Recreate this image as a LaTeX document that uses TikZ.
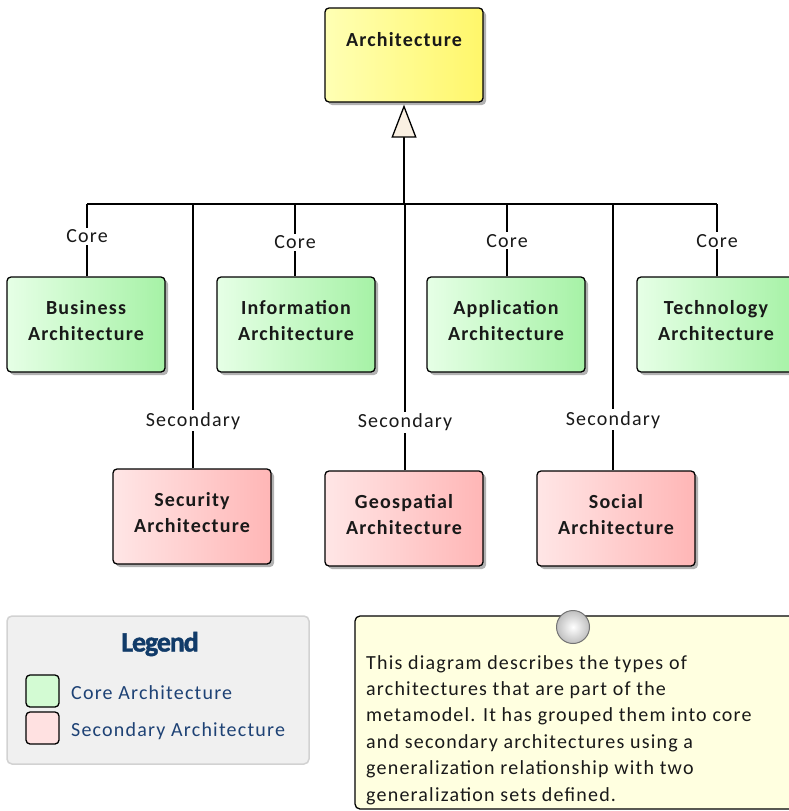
\documentclass[tikz,border=0pt]{standalone}
\usepackage{fontspec}
\setmainfont{Carlito}[LetterSpace=6]
\newfontfamily\legfont{Carlito}[LetterSpace=-4,FakeBold=1.5]
\usetikzlibrary{arrows.meta,shadows}
\definecolor{ylwL}{HTML}{FFFFB4}
\definecolor{ylwR}{HTML}{FFF76A}
\definecolor{grnL}{HTML}{E6FFE6}
\definecolor{grnR}{HTML}{A6F2A6}
\definecolor{pnkL}{HTML}{FFE6E6}
\definecolor{pnkR}{HTML}{FFB6B6}
\definecolor{cream}{HTML}{FAF0E2}
\definecolor{legbg}{HTML}{F0F0F0}
\definecolor{legbd}{HTML}{D2D2D2}
\definecolor{legtitle}{HTML}{113B69}
\definecolor{legtext}{HTML}{1E4275}
\definecolor{notebg}{HTML}{FFFFE0}
\tikzset{
  shad/.style={drop shadow={shadow xshift=3pt,shadow yshift=-3pt,opacity=0.3,fill=black}},
  box/.style={draw=black,line width=1.3pt,rounded corners=4pt,minimum width=158pt,minimum height=95pt,inner sep=0pt,shad},
  corebox/.style={box,left color=grnL,right color=grnR},
  secbox/.style={box,left color=pnkL,right color=pnkR},
  topbox/.style={box,left color=ylwL,right color=ylwR,minimum height=94pt},
  nm/.style={font=\fontsize{20}{26}\selectfont\bfseries,align=center,text=black!90,inner sep=0pt},
  lbl/.style={font=\fontsize{20}{24}\selectfont,fill=white,inner sep=2pt,text=black!90},
  conn/.style={line width=1.3pt,black},
}
\begin{document}
\begin{tikzpicture}[x=1pt,y=-1pt]
\useasboundingbox (0,0) rectangle (789,811);
\clip (0,0) rectangle (789,811);
% main
\node[topbox] (arch) at (404,55) {};
\node[nm] (archt) at (404,40) {Architecture};
% core
\node[corebox] (biz) at (86,324.5) {};
\node[nm] at (86,321) {Business\\Architecture};
\node[corebox] (inf) at (296,324.5) {};
\node[nm] at (296,321) {Information\\Architecture};
\node[corebox] (app) at (506,324.5) {};
\node[nm] at (506,321) {Application\\Architecture};
\node[corebox] (tech) at (716,324.5) {};
\node[nm] at (716,321) {Technology\\Architecture};
% secondary
\node[secbox] (sec) at (192,516.5) {};
\node[nm] at (192,513) {Security\\Architecture};
\node[secbox] (geo) at (404,518.5) {};
\node[nm] at (404,515) {Geospatial\\Architecture};
\node[secbox] (soc) at (616,518.5) {};
\node[nm] at (616,515) {Social\\Architecture};
% connectors
\coordinate (bus) at (0,204);
\coordinate (bL) at (87,204);
\coordinate (bR) at (717,204);
\draw[conn] (bL) -- (bR);
\draw[conn,-{Triangle[width=25pt,length=33pt,fill=cream,line width=1.3pt]}] (arch.south |- bus) -- ([yshift=-2pt]arch.south);
\draw[conn] ([xshift=1pt]biz.north) -- node[lbl,pos=0.55]{Core} ([xshift=1pt]biz.north |- bus);
\draw[conn] ([xshift=-1pt]inf.north) -- node[lbl,pos=0.47]{Core} ([xshift=-1pt]inf.north |- bus);
\draw[conn] ([xshift=1pt]app.north) -- node[lbl,pos=0.49]{Core} ([xshift=1pt]app.north |- bus);
\draw[conn] ([xshift=1pt]tech.north) -- node[lbl,pos=0.49]{Core} ([xshift=1pt]tech.north |- bus);
\draw[conn] ([xshift=1pt]sec.north) -- node[lbl,pos=0.18]{Secondary} ([xshift=1pt]sec.north |- bus);
\draw[conn] ([xshift=1pt]geo.north) -- node[lbl,pos=0.18]{Secondary} ([xshift=1pt]geo.north |- bus);
\draw[conn] ([xshift=-3pt]soc.north) -- node[lbl,pos=0.19]{Secondary} ([xshift=-3pt]soc.north |- bus);
% legend
\node[draw=legbd,fill=legbg,line width=1.5pt,rounded corners=5pt,minimum width=302pt,minimum height=148pt,inner sep=0pt] (legend) at (158,690) {};
\node[font=\legfont\fontsize{28}{30}\selectfont\bfseries,text=legtitle,inner sep=0pt] (legt) at (160,644) {Legend};
\node[draw=black,line width=1.3pt,rounded corners=4pt,fill=grnL!70!grnR,minimum width=33pt,minimum height=32pt,inner sep=0pt] (lg1) at (42.5,691) {};
\node[draw=black,line width=1.3pt,rounded corners=4pt,fill=pnkL!90!pnkR,minimum width=33pt,minimum height=32pt,inner sep=0pt] (lg2) at (42.5,728) {};
\node[font=\fontsize{20}{24}\selectfont,text=legtext,anchor=west,inner sep=0pt] (lt1) at (71,693) {Core Architecture};
\node[font=\fontsize{20}{24}\selectfont,text=legtext,anchor=west,inner sep=0pt] (lt2) at (71,731) {Secondary Architecture};
% note
\node[draw=black,fill=notebg,line width=1.3pt,rounded corners=5pt,minimum width=440pt,minimum height=193pt,inner sep=0pt] (note) at (575,712.5) {};
\node[circle,draw=black!55,line width=1pt,inner color=white,outer color=black!25,minimum size=33pt,inner sep=0pt] (pin) at (573,627) {};
\node[font=\fontsize{20}{26.4}\selectfont,align=left,anchor=north west,inner sep=0pt,text=black!90] (notet) at (366,655) {This diagram describes the types of\\architectures that are part of the\\metamodel. It has grouped them into core\\and secondary architectures using a\\generalization relationship with two\\generalization sets defined.};
\end{tikzpicture}
\end{document}
